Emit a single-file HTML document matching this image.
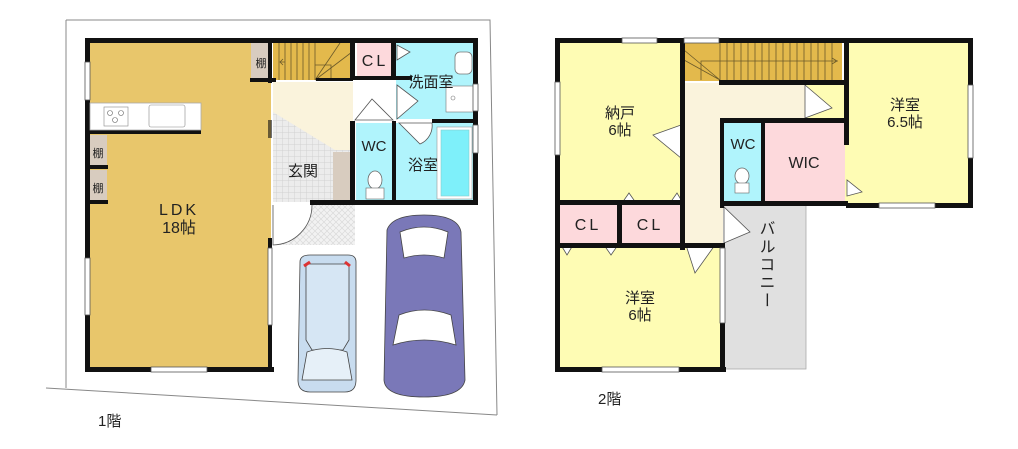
<!DOCTYPE html>
<html><head><meta charset="utf-8"><style>
html,body{margin:0;padding:0;background:#fff;}
svg{display:block;}
text{font-family:"Liberation Sans","Noto Sans CJK JP",sans-serif;fill:#222;}
</style></head><body>
<svg width="1018" height="449" viewBox="0 0 1018 449" xmlns="http://www.w3.org/2000/svg">
<defs>
<pattern id="tile" width="6" height="6" patternUnits="userSpaceOnUse"><rect width="6" height="6" fill="#ececec"/><path d="M0 0H6M0 0V6" stroke="#d2d2d2" stroke-width="1"/></pattern>
<pattern id="tile2" width="6" height="6" patternUnits="userSpaceOnUse"><rect width="6" height="6" fill="#f2f2f2"/><path d="M0 0L6 6M6 0L0 6" stroke="#dadada" stroke-width="0.7"/></pattern>
</defs>
<g stroke="#888" stroke-width="1" fill="none">
<path d="M66 20V388"/><path d="M66 20L490 20L497 415"/><path d="M46 388L497 415"/>
</g>
<!-- ===== 1F ===== -->
<rect x="88" y="41" width="183" height="329" fill="#e8c66b"/>
<rect x="271" y="41" width="207" height="161" fill="#fff"/>
<rect x="273" y="43" width="80" height="37" fill="#e3b94c"/>
<g stroke="#6b5a2a" stroke-width="0.8" fill="none">
<path d="M279 43V80M285 43V80M291 43V80M297 43V80M303 43V80M309 43V80M315 43V80"/>
<path d="M315 65H331V80M315 80L340 43M315 80L352 52"/>
<path d="M285 62L280 62M283 59L280 62L283 65"/>
</g>
<rect x="251" y="43" width="19" height="37" fill="#d8ccbf"/>
<rect x="357" y="43" width="37" height="34" fill="#fdd9dc"/>
<rect x="396" y="43" width="80" height="76" fill="#b0f4fc"/>
<rect x="273" y="82" width="80" height="68" fill="#faf3dc"/>
<polygon points="273,112 335,150 353,150 353,202 273,202" fill="url(#tile)"/>
<rect x="333" y="152" width="20" height="50" fill="#d8ccbf"/>
<rect x="356" y="123" width="37" height="79" fill="#b0f4fc"/>
<rect x="396" y="123" width="80" height="79" fill="#b0f4fc"/>
<rect x="437" y="127" width="35" height="72" fill="#fff" stroke="#999" stroke-width="0.6"/>
<rect x="441" y="130" width="28" height="66" fill="#7ef0fa" stroke="#8cc" stroke-width="0.6"/>
<rect x="273" y="205" width="82" height="40" fill="url(#tile2)"/>
<path d="M273 205V245A40 40 0 0 0 312 205" fill="#fff" stroke="#555" stroke-width="0.8"/>
<rect x="455" y="52" width="17" height="22" rx="5" fill="#fff" stroke="#777" stroke-width="0.8"/>
<rect x="446" y="86" width="28" height="26" fill="#fff" stroke="#777" stroke-width="0.6"/>
<circle cx="453" cy="98" r="2" fill="none" stroke="#777" stroke-width="0.6"/>
<ellipse cx="375" cy="180" rx="7" ry="9" fill="#fff" stroke="#666" stroke-width="0.8"/>
<rect x="366" y="188" width="18" height="11" fill="#fff" stroke="#666" stroke-width="0.6"/>
<g fill="#fff" stroke="#555" stroke-width="0.8">
<path d="M397 45V60L410 52Z"/>
<path d="M397 85L418 101L397 119Z"/>
<path d="M393 120L372 99L355 120Z"/>
<path d="M399 123L420 144A20 20 0 0 0 432 123Z"/>
</g>
<g fill="#111">
<rect x="85" y="38" width="393" height="5"/>
<rect x="85" y="38" width="5" height="334"/>
<rect x="85" y="367" width="189" height="5"/>
<rect x="268" y="38" width="4" height="45"/>
<rect x="268" y="120" width="4" height="18" opacity="0.6"/>
<rect x="268" y="238" width="4" height="134"/>
<rect x="473" y="38" width="5" height="167"/>
<rect x="310" y="200" width="168" height="5"/>
<rect x="350" y="38" width="5" height="42"/>
<rect x="350" y="121" width="5" height="84"/>
<rect x="391" y="38" width="5" height="40"/>
<rect x="392" y="121" width="4" height="84"/>
<rect x="250" y="78" width="26" height="4"/>
<rect x="316" y="78" width="37" height="3"/>
<rect x="350" y="76" width="46" height="4"/>
<rect x="392" y="76" width="20" height="4"/>
<rect x="432" y="119" width="46" height="4"/>
<rect x="88" y="130" width="113" height="4"/>
<rect x="88" y="165" width="20" height="4"/>
<rect x="88" y="200" width="20" height="4"/>
</g>
<rect x="90" y="103" width="111" height="27" fill="#fff" stroke="#aaa" stroke-width="0.8"/>
<rect x="104" y="107" width="24" height="19" fill="#fff" stroke="#888" stroke-width="0.6"/>
<circle cx="110" cy="113" r="2.5" fill="none" stroke="#666" stroke-width="0.6"/>
<circle cx="121" cy="113" r="2.5" fill="none" stroke="#666" stroke-width="0.6"/>
<circle cx="115" cy="120" r="2.5" fill="none" stroke="#666" stroke-width="0.6"/>
<rect x="149" y="105" width="36" height="22" rx="2" fill="#fff" stroke="#888" stroke-width="0.6"/>
<rect x="90" y="135" width="17" height="30" fill="#d8ccbf"/>
<rect x="90" y="170" width="17" height="30" fill="#d8ccbf"/>
<g fill="#fff" stroke="#555" stroke-width="0.8">
<rect x="85" y="62" width="5" height="38"/><rect x="85" y="258" width="5" height="57"/>
<rect x="151" y="367" width="56" height="5"/><rect x="268" y="248" width="4" height="77"/>
<rect x="473" y="84" width="5" height="27"/><rect x="473" y="125" width="5" height="28"/>
</g>
<g stroke="#444" stroke-width="0.8">
<path d="M300 262Q300 255 310 255H348Q356 255 356 262V380Q356 392 345 392H310Q298 392 298 380Z" fill="#c8dcef"/>
<path d="M306 264H349V340L343 350H312L306 340Z" fill="#d6e6f4"/>
<path d="M307 352Q327 345 347 352L352 380H302Z" fill="#e6f0f8"/>
<path d="M387 230Q392 215 424 215Q458 215 461 232L465 380Q462 397 424 397Q385 397 384 380Z" fill="#7a78b8"/>
<path d="M400 232Q424 222 448 232L444 258Q424 252 404 258Z" fill="#fff"/>
<path d="M399 315Q424 305 451 315L456 345Q424 335 393 345Z" fill="#fff"/>
</g>
<path d="M304 266L310 262M350 266L345 262" stroke="#d33" stroke-width="3"/>
<text x="179" y="215" font-size="16" text-anchor="middle" letter-spacing="3">LDK</text>
<text x="179" y="233" font-size="16" text-anchor="middle">18帖</text>
<text x="261" y="67" font-size="11" text-anchor="middle">棚</text>
<text x="98" y="157" font-size="11" text-anchor="middle">棚</text>
<text x="98" y="192" font-size="11" text-anchor="middle">棚</text>
<text x="375" y="66" font-size="16" text-anchor="middle" letter-spacing="3">CL</text>
<text x="431" y="87" font-size="15" text-anchor="middle">洗面室</text>
<text x="374" y="151" font-size="15" text-anchor="middle">WC</text>
<text x="423" y="170" font-size="15" text-anchor="middle">浴室</text>
<text x="303" y="176" font-size="15" text-anchor="middle">玄関</text>
<text x="98" y="426" font-size="15">1階</text>

<!-- ===== 2F ===== -->
<rect x="558" y="41" width="125" height="160" fill="#fefcb4"/>
<rect x="846" y="41" width="122" height="162" fill="#fefcb4"/>
<rect x="805" y="83" width="45" height="120" fill="#fefcb4"/>
<rect x="558" y="245" width="164" height="124" fill="#fefcb4"/>
<rect x="683" y="83" width="122" height="37" fill="#faf3dc"/>
<rect x="683" y="83" width="40" height="162" fill="#faf3dc"/>
<rect x="724" y="205" width="82" height="164" fill="#e0e0e0" stroke="#aaa" stroke-width="0.8"/>
<rect x="724" y="123" width="38" height="78" fill="#b0f4fc"/>
<rect x="765" y="123" width="80" height="78" fill="#fdd9dc"/>
<rect x="560" y="205" width="58" height="38" fill="#fdd9dc"/>
<rect x="622" y="205" width="58" height="38" fill="#fdd9dc"/>
<rect x="684" y="43" width="158" height="38" fill="#e3b94c"/>
<g stroke="#6b5a2a" stroke-width="0.8" fill="none">
<path d="M720 43V80M727 43V80M734 43V80M741 43V80M748 43V80M755 43V80M762 43V80M769 43V80M776 43V80M783 43V80M790 43V80M797 43V80M804 43V80M811 43V80M818 43V80M825 43V80M832 43V80"/>
<path d="M701 80V61H838M684 50L720 80M684 60L720 80M832 58L837 61L832 64"/>
</g>
<ellipse cx="742" cy="176" rx="7" ry="8" fill="#fff" stroke="#666" stroke-width="0.8"/>
<rect x="735" y="183" width="14" height="10" fill="#fff" stroke="#666" stroke-width="0.6"/>
<g fill="#fff" stroke="#555" stroke-width="0.8">
<path d="M805 85L832 108L805 118Z"/>
<path d="M681 125L653 135L681 158Z"/>
<path d="M847 180V196L862 192Z"/>
<path d="M724 207V243L750 232Z"/>
<path d="M686 245L695 273L715 245Z"/>
<path d="M622 203L629 193L636 203ZM670 203L677 193L683 203Z"/>
<path d="M561 245L567 255L573 245ZM604 245L611 255L618 245Z"/>
</g>
<g fill="#111">
<rect x="555" y="38" width="418" height="5"/>
<rect x="555" y="38" width="5" height="334"/>
<rect x="555" y="367" width="171" height="5"/>
<rect x="968" y="38" width="5" height="170"/>
<rect x="846" y="203" width="127" height="5"/>
<rect x="680" y="38" width="5" height="212"/>
<rect x="720" y="245" width="5" height="127"/>
<rect x="720" y="120" width="4" height="88"/>
<rect x="720" y="118" width="128" height="5"/>
<rect x="720" y="201" width="128" height="5"/>
<rect x="761" y="120" width="4" height="86"/>
<rect x="844" y="40" width="5" height="105"/>
<rect x="719" y="80" width="129" height="5"/>
<rect x="555" y="200" width="128" height="5"/>
<rect x="555" y="243" width="170" height="5"/>
<rect x="617" y="200" width="5" height="47"/>
</g>
<g fill="#fff" stroke="#555" stroke-width="0.8">
<rect x="622" y="38" width="35" height="5"/><rect x="684" y="38" width="35" height="5"/>
<rect x="555" y="82" width="5" height="73"/><rect x="968" y="85" width="5" height="73"/>
<rect x="602" y="367" width="77" height="5"/><rect x="879" y="203" width="56" height="5"/>
<rect x="720" y="248" width="5" height="75"/>
</g>
<text x="620" y="118" font-size="15" text-anchor="middle">納戸</text>
<text x="620" y="135" font-size="15" text-anchor="middle">6帖</text>
<text x="905" y="110" font-size="15" text-anchor="middle">洋室</text>
<text x="905" y="127" font-size="15" text-anchor="middle">6.5帖</text>
<text x="640" y="303" font-size="15" text-anchor="middle">洋室</text>
<text x="640" y="320" font-size="15" text-anchor="middle">6帖</text>
<text x="743" y="149" font-size="15" text-anchor="middle">WC</text>
<text x="804" y="168" font-size="16" text-anchor="middle">WIC</text>
<text x="588" y="230" font-size="16" text-anchor="middle" letter-spacing="3">CL</text>
<text x="650" y="230" font-size="16" text-anchor="middle" letter-spacing="3">CL</text>
<text x="765" y="265" font-size="16" text-anchor="middle" writing-mode="tb" glyph-orientation-vertical="0" letter-spacing="2">バルコニー</text>
<text x="598" y="404" font-size="15">2階</text>
</svg>
</body></html>
